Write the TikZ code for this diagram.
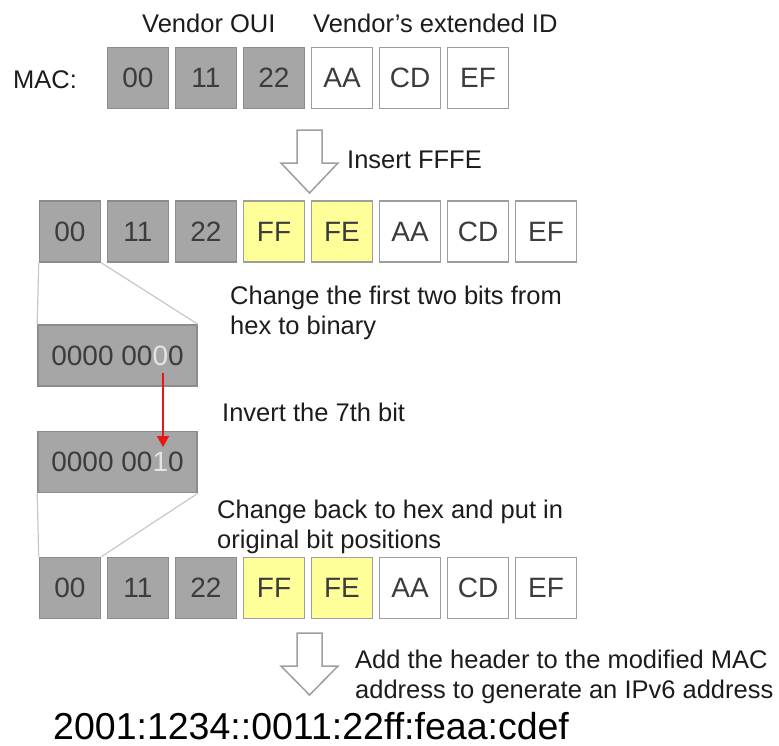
\documentclass[tikz,border=0pt]{standalone}
\usepackage{fontspec}
\setmainfont{Liberation Sans}
\usetikzlibrary{arrows.meta,positioning,calc}
\definecolor{oui}{RGB}{166,166,166}
\definecolor{ouiedge}{RGB}{140,140,140}
\definecolor{pad}{RGB}{255,255,153}
\definecolor{edge}{RGB}{158,158,158}
\definecolor{digit}{RGB}{60,60,60}
\definecolor{ink}{RGB}{28,28,28}
\definecolor{flip}{RGB}{232,22,22}
\tikzset{
  byte/.style={draw=edge,fill=#1,line width=1.6bp,minimum width=61bp,minimum height=61bp,
    inner sep=0pt,text=digit,font=\fontsize{28bp}{30bp}\selectfont},
  byte/.default=white,
  greybyte/.style={byte=oui,draw=ouiedge},
  padbyte/.style={byte=pad},
  plainbyte/.style={byte},
  bits/.style={greybyte,minimum width=159bp},
  note/.style={anchor=base west,align=left,inner sep=0pt,text=ink,
    font=\fontsize{25.5bp}{30bp}\selectfont},
  zoomline/.style={draw=black!22,line width=1.2bp},
  % pictograms
  pics/hollow/.style={code={
    \draw[edge,fill=white,line width=1.5bp] (-12.5,0) -- (-12.5,33) -- (-28.5,33) -- (0,#1)
      -- (28.5,33) -- (12.5,33) -- (12.5,0) -- cycle;
  }},
  pics/hollow/.default=63,
}

\begin{document}
\begin{tikzpicture}[x=1bp,y=-1bp]
  \useasboundingbox (0,0) rectangle (779,746);

  % original MAC
  \node[note] (maclbl) at (13,88) {MAC:};
  \node[note] (ouilbl) at (142,33) {Vendor OUI};
  \node[note] (extlbl) at (313,33) {Vendor\char39 s extended ID};
  \foreach \t/\c [count=\i] in {00/greybyte,11/greybyte,22/greybyte,AA/plainbyte,CD/plainbyte,EF/plainbyte}
    \node[\c] (mac\i) at (70+68*\i,78) {\t};

  \pic at (309.5,130) {hollow};
  \node[note] (insert) at (347,168) {Insert FFFE};

  % EUI-64 with FFFE
  \foreach \t/\c [count=\i] in {00/greybyte,11/greybyte,22/greybyte,FF/padbyte,FE/padbyte,AA/plainbyte,CD/plainbyte,EF/plainbyte}
    \node[\c] (eui\i) at (2+68*\i,231.5) {\t};

  \node[bits] (bin1) at (117.5,355.5) {0000 00\textcolor{white!90!black}{0}0};
  \node[bits] (bin2) at (117.5,462) {0000 00\textcolor{white!90!black}{1}0};
  \draw[zoomline] (eui1.south west) -- (bin1.north west) (eui1.south east) -- (bin1.north east);
  \node[note] (tobin) at (230,334) {Change the first two bits from\\hex to binary};

  \coordinate (flipA) at (163,373);
  \coordinate (flipB) at (163,447);
  \draw[flip,line width=1.5bp,-{Triangle[length=11bp,width=12bp]}] (flipA) -- (flipB);
  \node[note] (invert) at (222,421) {Invert the 7th bit};

  % modified EUI-64
  \node[note] (tohex) at (217,548) {Change back to hex and put in\\original bit positions};
  \foreach \t/\c [count=\i] in {00/greybyte,11/greybyte,22/greybyte,FF/padbyte,FE/padbyte,AA/plainbyte,CD/plainbyte,EF/plainbyte}
    \node[\c] (mod\i) at (2+68*\i,588) {\t};
  \draw[zoomline] (bin2.south west) -- (mod1.north west) (bin2.south east) -- (mod1.north east);

  \pic at (309.5,633) {hollow=62};
  \node[note] (header) at (355,698) {Add the header to the modified MAC\\address to generate an IPv6 address};
  \node[note,text=black,font=\fontsize{37.5bp}{40bp}\selectfont] (ipv6) at (53,739) {2001:1234::0011:22ff:feaa:cdef};
\end{tikzpicture}
\end{document}
